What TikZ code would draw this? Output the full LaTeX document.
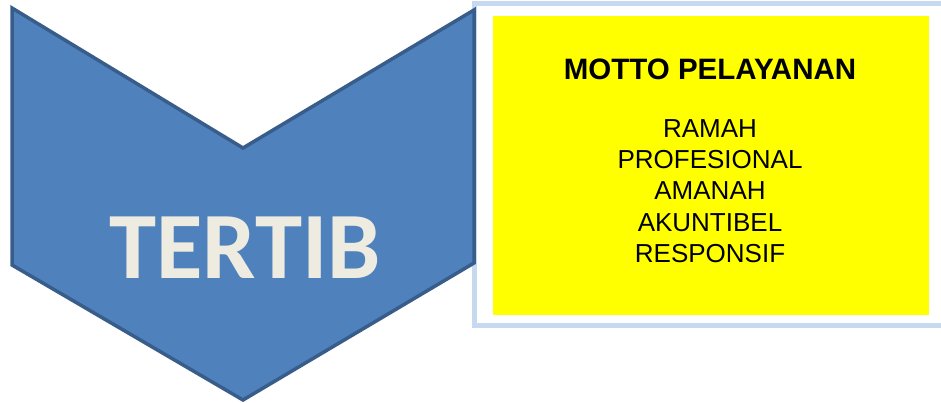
\documentclass[tikz,border=0pt]{standalone}
\usepackage{fontspec}
\setmainfont{Liberation Sans}
\newfontfamily\chevronfont{Carlito}
\usetikzlibrary{positioning}
\definecolor{chevronblue}{HTML}{4F81BD}
\definecolor{chevronedge}{HTML}{385D8A}
\definecolor{framelight}{HTML}{C6D9F1}
\definecolor{tertibtext}{HTML}{EEECE1}
\definecolor{mottoyellow}{RGB}{255,255,0}
\tikzset{
  chevron/.style={fill=chevronblue, draw=chevronedge, line width=3.5pt, line join=miter},
  outerframe/.style={draw=framelight, line width=5pt},
  mottobox/.style={fill=mottoyellow, inner sep=0pt, minimum width=436pt, minimum height=299pt},
  bigword/.style={font=\chevronfont\bfseries\fontsize{95}{95}\selectfont, text=tertibtext, anchor=base, inner sep=0pt},
  mottotitle/.style={font=\bfseries\fontsize{29.5}{31}\selectfont, anchor=base, inner sep=0pt},
  mottoitem/.style={font=\fontsize{26}{31}\selectfont, anchor=base, inner sep=0pt}
}
\begin{document}
\begin{tikzpicture}[x=1pt,y=-1pt]
  \useasboundingbox (0,0) rectangle (941,403);
  % frame behind the chevron
  \begin{scope}
    \clip (0,0) rectangle (941,403);
    \draw[outerframe] (474.5,4) rectangle (960,325.5);
  \end{scope}
  % yellow box
  \node[mottobox] (motto) at (711,165.5) {};
  % chevron
  \draw[chevron] (12,8) -- (243,148) -- (474,10) -- (474,263) -- (243,400) -- (12,265) -- cycle;
  \node[bigword] (tertib) at (245,278) {TERTIB};
  % motto texts
  \node[mottotitle] (judul) at (710,80) {MOTTO PELAYANAN};
  \foreach \word [count=\i from 0] in {RAMAH,PROFESIONAL,AMANAH,AKUNTIBEL,RESPONSIF}
    \node[mottoitem] (item\i) at (710,{138+31*\i}) {\word};
\end{tikzpicture}
\end{document}
